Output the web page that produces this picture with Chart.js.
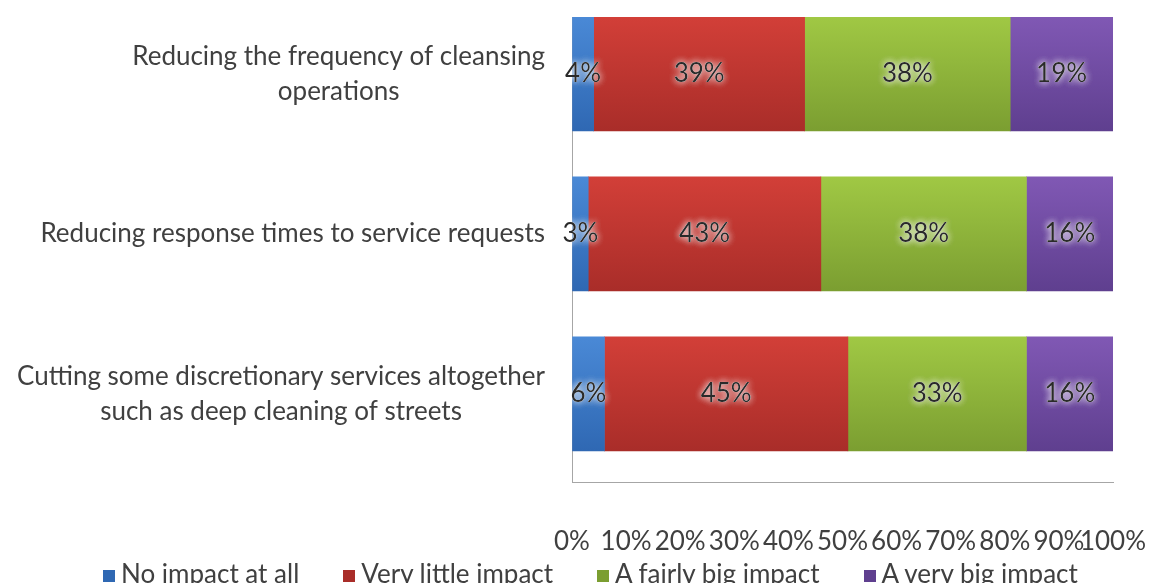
<!DOCTYPE html>
<html lang="en">
<head>
  <meta charset="UTF-8" />
  <title>Impact of service reductions</title>
  <style>
    html, body { margin: 0; padding: 0; background: #fff; overflow: hidden; }
    #wrap { position: relative; width: 1149px; height: 583px; }
    #impactChart { display: block; }
    .legend {
      position: absolute; left: 103px; top: 558px;
      display: flex; gap: 44px;
      font: 26px Lato, "Open Sans", sans-serif; line-height: 30px; color: #404040;
      white-space: nowrap;
    }
    .legend span.box { display: inline-block; width: 12px; height: 12px; margin-right: 6px; vertical-align: 1px; }
  </style>
</head>
<body>
  <div id="wrap">
    <canvas id="impactChart"></canvas>
    <div class="legend" id="legend"></div>
  </div>

<script src="https://cdn.jsdelivr.net/npm/chart.js"></script>
<script>
// categories, top to bottom (each entry = lines of the label)
const categories = [
  ["Reducing the frequency of cleansing", "operations"],
  ["Reducing response times to service requests"],
  ["Cutting some discretionary services altogether", "such as deep cleaning of streets"]
];

const seriesNames = ["No impact at all", "Very little impact", "A fairly big impact", "A very big impact"];

// percent of respondents per category
const noImpact     = [4, 3, 6];
const veryLittle   = [39, 43, 45];
const fairlyBig    = [38, 38, 33];
const veryBig      = [19, 16, 16];

const xTicks = [0, 10, 20, 30, 40, 50, 60, 70, 80, 90, 100];

// [top, bottom] shades for the bar gradients
const shades = [
  ["#4a89d6", "#2f68b3"],
  ["#d23f38", "#a92d29"],
  ["#a0c844", "#7b9e31"],
  ["#8058b4", "#5f3f8f"]
];

const FONT = "Lato, 'Open Sans', 'DejaVu Sans', sans-serif";
const FSIZE = 26;
const TEXT = "#404040";
const BAR_H = 114;

function barFill(i) {
  return (ctx) => {
    const chart = ctx.chart;
    if (ctx.dataIndex === undefined || !chart.chartArea) return shades[i][0];
    const yc = chart.scales.y.getPixelForValue(ctx.dataIndex);
    const g = chart.ctx.createLinearGradient(0, yc - BAR_H / 2, 0, yc + BAR_H / 2);
    g.addColorStop(0, shades[i][0]);
    g.addColorStop(1, shades[i][1]);
    return g;
  };
}

const seriesValues = [noImpact, veryLittle, fairlyBig, veryBig];
const datasets = seriesValues.map((vals, i) => ({
  label: seriesNames[i],
  data: vals.map((v, k) => ({ x: v, y: k })),
  backgroundColor: barFill(i),
  borderWidth: 0,
  barThickness: BAR_H
}));

// value labels with a soft white glow, centred in each segment
const segmentLabels = {
  id: "segmentLabels",
  afterDatasetsDraw(chart) {
    const ctx = chart.ctx;
    ctx.save();
    ctx.font = FSIZE + "px " + FONT;
    ctx.textAlign = "center";
    ctx.textBaseline = "middle";
    chart.data.datasets.forEach((ds, di) => {
      const meta = chart.getDatasetMeta(di);
      meta.data.forEach((bar, k) => {
        const txt = seriesValues[di][k] + "%";
        const x = (bar.x + bar.base) / 2;
        const y = bar.y;
        ctx.shadowColor = "rgba(255,255,255,0.95)";
        ctx.shadowBlur = 7;
        ctx.fillStyle = "rgba(255,255,255,0.6)";
        for (let n = 0; n < 3; n++) ctx.fillText(txt, x, y);
        ctx.shadowBlur = 0;
        ctx.fillStyle = "#2a2a2a";
        ctx.fillText(txt, x, y);
      });
    });
    ctx.restore();
  }
};

// category labels: block right-aligned to the axis, lines centred inside it
const categoryLabels = {
  id: "categoryLabels",
  afterDraw(chart) {
    const ctx = chart.ctx;
    const yScale = chart.scales.y;
    const right = chart.chartArea.left - 27;
    const lineH = 35;
    ctx.save();
    ctx.font = FSIZE + "px " + FONT;
    ctx.fillStyle = TEXT;
    ctx.textAlign = "center";
    ctx.textBaseline = "middle";
    categories.forEach((lines, i) => {
      const w = Math.max(...lines.map(l => ctx.measureText(l).width));
      const cx = right - w / 2;
      const yc = yScale.getPixelForValue(i);
      lines.forEach((l, n) => {
        ctx.fillText(l, cx, yc + (n - (lines.length - 1) / 2) * lineH);
      });
    });
    ctx.restore();
  }
};

new Chart(document.getElementById("impactChart"), {
  type: "bar",
  data: { datasets },
  options: {
    indexAxis: "y",
    responsive: true,
    maintainAspectRatio: false,
    animation: false,
    layout: { padding: { top: 17, right: 36, left: 0, bottom: 26 } },
    scales: {
      x: {
        stacked: true,
        min: 0,
        max: 100,
        afterBuildTicks: (scale) => { scale.ticks = xTicks.map(v => ({ value: v })); },
        ticks: {
          callback: (v) => v + "%",
          font: { family: FONT, size: FSIZE },
          color: TEXT,
          padding: 0,
          maxRotation: 0,
          autoSkip: false
        },
        // invisible tick marks push the labels well below the axis line
        grid: { drawOnChartArea: false, drawTicks: true, tickLength: 43, color: "rgba(0,0,0,0)" },
        border: { display: true, color: "#a6a6a6", width: 1 }
      },
      y: {
        type: "linear",
        stacked: true,
        reverse: true,
        offset: false,
        bounds: "data",
        min: -0.356,
        max: 2.556,
        ticks: { display: false },
        grid: { display: false, drawTicks: false, offset: false },
        border: { display: true, color: "#a6a6a6", width: 1 },
        afterFit: (scale) => { scale.width = 572; }
      }
    },
    plugins: {
      legend: { display: false },
      tooltip: { enabled: false }
    }
  },
  plugins: [segmentLabels, categoryLabels]
});

// legend row under the chart
const legendEl = document.getElementById("legend");
seriesNames.forEach((name, i) => {
  const item = document.createElement("div");
  const box = document.createElement("span");
  box.className = "box";
  box.style.background = shades[i][1];
  item.appendChild(box);
  item.appendChild(document.createTextNode(name));
  legendEl.appendChild(item);
});
</script>
</body>
</html>
